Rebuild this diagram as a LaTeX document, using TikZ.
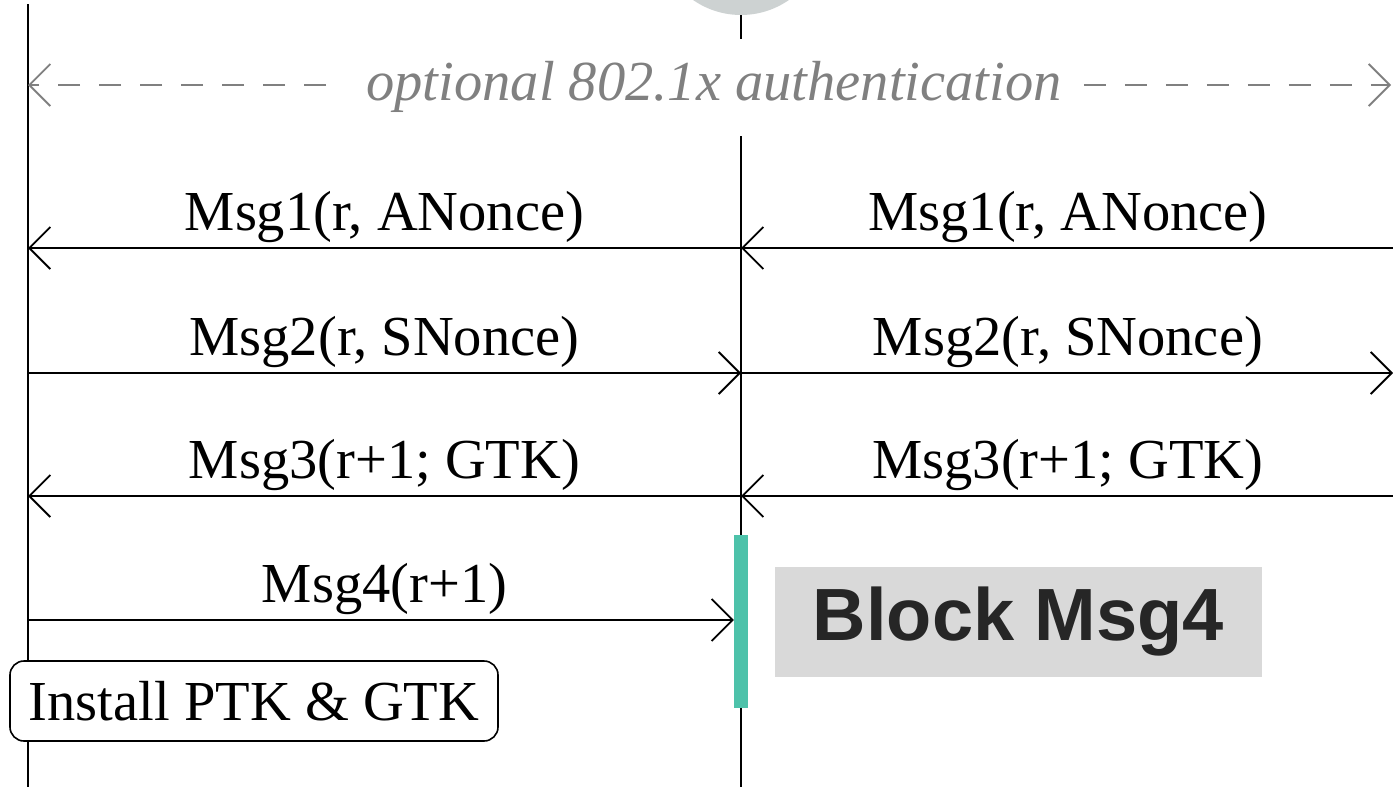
\documentclass[tikz,border=0pt]{standalone}
\usepackage{fontspec}
\setmainfont{Liberation Serif}
\newfontfamily\blockfont{Liberation Sans}
\usetikzlibrary{arrows.meta}
\definecolor{tealbar}{RGB}{77,194,170}
\definecolor{blockgray}{RGB}{217,217,217}
\definecolor{blocktext}{RGB}{38,38,38}
\definecolor{circgray}{RGB}{205,210,210}
\definecolor{dashgray}{RGB}{128,128,128}
\tikzset{
  barb/.tip={Straight Barb[length=21pt,width=42pt,line width=1.8pt]},
  life/.style={line width=2.7pt},
  msg/.style={line width=2.7pt},
  msglabel/.style={font=\fontsize{56.5}{60}\selectfont, anchor=base, inner sep=0pt},
  optline/.style={dashgray, line width=2.2pt, dash pattern=on 22pt off 19pt},
}
\begin{document}
\begin{tikzpicture}[x=1pt,y=-1pt]
\useasboundingbox (0,0) rectangle (1393,787);
% top circle
\node[circle, fill=circgray, minimum size=168pt, inner sep=0pt] (topc) at (741,-69) {};
% lifelines
\coordinate (Ltop) at (28,4);
\coordinate (Lbot) at (28,787);
\coordinate (Mgap) at (741,39);
\coordinate (Mres) at (741,136);
\coordinate (Mbot) at (741,787);
\draw[life] (Ltop) -- (Lbot);
\draw[life] (topc.south) -- (Mgap);
\draw[life] (Mres) -- (Mbot);
% optional authentication
\node[font=\fontsize{56.5}{60}\selectfont\itshape, text=dashgray, inner sep=0pt] (opt) at (714,87) {optional 802.1x authentication};
\coordinate (OL) at (28,85);
\coordinate (OR) at (1391,85);
\draw[optline, -{barb}] ([xshift=-40pt]opt.west |- OL) -- (OL);
\draw[optline, -{barb}] ([xshift=22pt]opt.east |- OR) -- (OR);
% message rows
\foreach \y [count=\i] in {248,373,496,620} {
  \coordinate (L\i) at (28,\y);
  \coordinate (M\i) at (741,\y);
  \coordinate (R\i) at (1393,\y);
}
\draw[msg, -{barb}] (M1) -- (L1);
\draw[msg, -{barb}] (R1) -- (M1);
\draw[msg, -{barb}] (L2) -- (M2);
\draw[msg, -{barb}] (M2) -- (R2);
\draw[msg, -{barb}] (M3) -- (L3);
\draw[msg, -{barb}] (R3) -- (M3);
\node[msglabel] (t1a) at (384.5,230) {Msg1(r, ANonce)};
\node[msglabel] (t1b) at (1068,230) {Msg1(r, ANonce)};
\node[msglabel] (t2a) at (384.5,355) {Msg2(r, SNonce)};
\node[msglabel] (t2b) at (1068,355) {Msg2(r, SNonce)};
\node[msglabel] (t3a) at (384.5,478) {Msg3(r+1; GTK)};
\node[msglabel] (t3b) at (1068,478) {Msg3(r+1; GTK)};
% block bar
\node[fill=tealbar, minimum width=14pt, minimum height=173pt, inner sep=0pt] (bar) at (741,621.5) {};
\draw[msg, -{barb}] (L4) -- (bar.west |- L4);
\node[msglabel] (t4) at (384.5,602) {Msg4(r+1)};
% install box
\node[draw, fill=white, line width=1.6pt, rounded corners=14pt, minimum width=488pt, minimum height=80pt, inner sep=0pt,
      font=\fontsize{56.5}{60}\selectfont] (inst) at (254,701) {Install PTK \& GTK};
% block msg4
\node[fill=blockgray, minimum width=487pt, minimum height=110pt, inner sep=0pt,
      font=\blockfont\bfseries\fontsize{74}{80}\selectfont, text=blocktext] (blk) at (1018.5,622) {Block Msg4};
\end{tikzpicture}
\end{document}
